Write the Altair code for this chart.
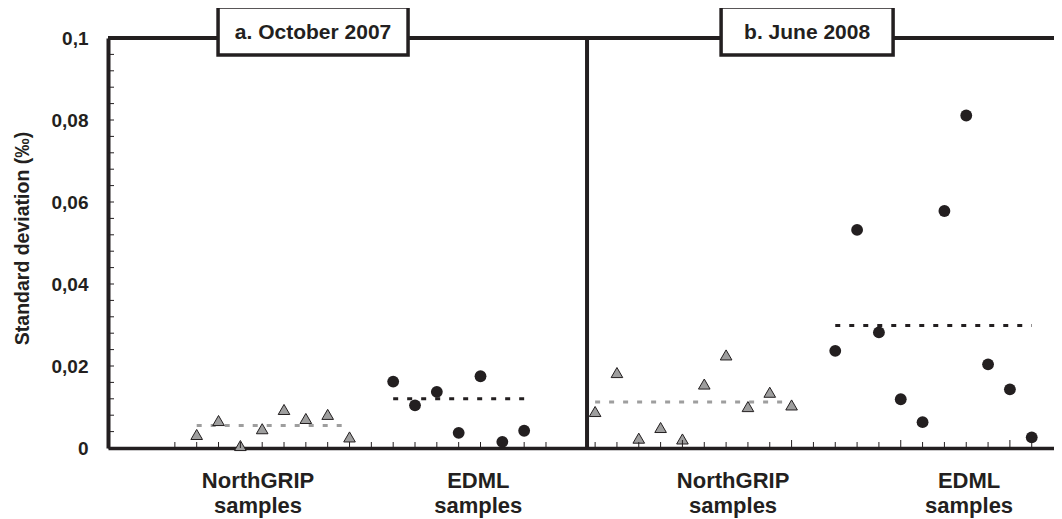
import altair as alt
import pandas as pd

# ---------------- data ----------------
# panel a: October 2007, panel b: June 2008 ; sample slot along x, std. dev. (permil)
oct_ngrip_sample = [1, 2, 3, 4, 5, 6, 7, 8]
oct_ngrip_sd = [0.0033, 0.0067, 0.0006, 0.0047, 0.0094, 0.0072, 0.0082, 0.0027]
oct_edml_sample = [10, 11, 12, 13, 14, 15, 16]
oct_edml_sd = [0.0162, 0.0104, 0.0137, 0.0037, 0.0175, 0.0015, 0.0042]

jun_ngrip_sample = [1, 2, 3, 4, 5, 6, 7, 8, 9, 10]
jun_ngrip_sd = [0.0089, 0.0184, 0.0024, 0.0050, 0.0022, 0.0156, 0.0227, 0.0101, 0.0136, 0.0105]
jun_edml_sample = [12, 13, 14, 15, 16, 17, 18, 19, 20, 21]
jun_edml_sd = [0.0237, 0.0532, 0.0282, 0.0119, 0.0063, 0.0578, 0.0811, 0.0204, 0.0143, 0.0026]

# mean lines (dashed)
mean_panel = ["a", "a", "b", "b"]
mean_group = ["NorthGRIP", "EDML", "NorthGRIP", "EDML"]
mean_first = [1, 10, 1, 12]
mean_last = [8, 16, 10, 21]
mean_sd = [0.0055, 0.0120, 0.0112, 0.0299]

# panel titles
title_panel = ["a", "b"]
title_text = ["a. October 2007", "b. June 2008"]
title_pos = [6.33, 10.71]

# group labels under the x axis
glabel_panel = ["a", "a", "b", "b"]
glabel_text = ["NorthGRIP\nsamples", "EDML\nsamples", "NorthGRIP\nsamples", "EDML\nsamples"]
glabel_pos = [3.81, 13.9, 7.32, 18.13]

# x tick slots per panel
xtick_a = list(range(0, 18))
xtick_b = list(range(1, 22))
xtick_b_major = [5, 10, 15, 20]

# y axis
y_labels = [0, 0.02, 0.04, 0.06, 0.08, 0.1]
y_minor = [round(i * 0.004, 3) for i in range(26)]

# ---------------- layout / style ----------------
W, H = 946, 410
X_DOMAIN = [-3.063, 40.27]
B_OFFSET = 18.25
DIVIDER = 18.88
INK = "#231f20"
GREY = "#9e9e9e"
FONT = "Liberation Sans"

def calc(field):
    return f"datum.{field} + (datum.panel == 'b' ? {B_OFFSET} : 0)"

xs = alt.Scale(domain=X_DOMAIN, nice=False, zero=False)
ys = alt.Scale(domain=[0, 0.1], nice=False, zero=True)

X_AX = alt.Axis(labels=False, ticks=False, grid=False, domain=True,
                domainWidth=3.5, domainColor=INK, title=None)
Y_AX = alt.Axis(values=y_labels, ticks=False, grid=False, domain=True,
                domainWidth=4, domainColor=INK,
                labelExpr="replace(format(datum.value, '~g'), '.', ',')",
                labelFont=FONT, labelFontSize=19, labelFontWeight="bold",
                labelColor=INK, labelPadding=20,
                title="Standard deviation (‰)", titleFont=FONT, titleFontSize=19.5,
                titleFontWeight="bold", titleColor=INK, titleX=-86, titleY=200,
                titleAngle=-90, titleAlign="center", titleBaseline="middle")

def X(field):
    return alt.X(field, type="quantitative", scale=xs, axis=X_AX)

def Y(field):
    return alt.Y(field, type="quantitative", scale=ys, axis=Y_AX)

rows = []
for p, g, xs_, ys_ in [("a", "NorthGRIP", oct_ngrip_sample, oct_ngrip_sd),
                       ("a", "EDML", oct_edml_sample, oct_edml_sd),
                       ("b", "NorthGRIP", jun_ngrip_sample, jun_ngrip_sd),
                       ("b", "EDML", jun_edml_sample, jun_edml_sd)]:
    for s, v in zip(xs_, ys_):
        rows.append({"panel": p, "group": g, "sample": s, "sd": v})
pts = pd.DataFrame(rows)

means = pd.DataFrame({"panel": mean_panel, "group": mean_group,
                      "first": mean_first, "last": mean_last, "sd": mean_sd})
titles = pd.DataFrame({"panel": title_panel, "text": title_text, "pos": title_pos})
glabels = pd.DataFrame({"panel": glabel_panel, "text": glabel_text, "pos": glabel_pos})
xt_rows = [{"panel": "a", "slot": s, "major": False} for s in xtick_a] + \
          [{"panel": "b", "slot": s, "major": s in xtick_b_major} for s in xtick_b]
xticks = pd.DataFrame(xt_rows)
yticks = pd.DataFrame({"v": y_minor})
one = pd.DataFrame({"k": [0]})

color_scale = alt.Scale(domain=["NorthGRIP", "EDML"], range=[GREY, INK])

mean_layer = alt.Chart(means).transform_calculate(
    s1=calc("first"), s2=calc("last")
).mark_rule(strokeWidth=3, strokeDash=[5, 9]).encode(
    x=X("s1:Q"), x2="s2:Q", y=Y("sd:Q"),
    color=alt.Color("group:N", scale=color_scale, legend=None))

tri_layer = alt.Chart(pts).transform_filter("datum.group == 'NorthGRIP'").transform_calculate(
    s=calc("sample")
).mark_point(shape="triangle-up", filled=True, fill=GREY, stroke=INK,
             strokeWidth=1, size=135, opacity=1).encode(x=X("s:Q"), y=Y("sd:Q"))

circ_layer = alt.Chart(pts).transform_filter("datum.group == 'EDML'").transform_calculate(
    s=calc("sample")
).mark_circle(size=140, color=INK, opacity=1).encode(x=X("s:Q"), y=Y("sd:Q"))

xtick_minor = alt.Chart(xticks).transform_filter("!datum.major").transform_calculate(
    s=calc("slot")
).mark_rule(strokeWidth=1, color=INK).encode(
    x=X("s:Q"), y=alt.value(H), y2=alt.value(H - 6))

xtick_major = alt.Chart(xticks).transform_filter("datum.major").transform_calculate(
    s=calc("slot")
).mark_rule(strokeWidth=1, color=INK).encode(
    x=X("s:Q"), y=alt.value(H), y2=alt.value(H - 8))

ytick_layer = alt.Chart(yticks).mark_rule(strokeWidth=1, color=INK).encode(
    y=Y("v:Q"), x=alt.value(0), x2=alt.value(6))

top_line = alt.Chart(one).mark_rule(strokeWidth=4, color=INK).encode(
    y=alt.YDatum(0.1, type="quantitative", scale=ys, axis=Y_AX))

divider = alt.Chart(one).mark_rule(strokeWidth=4, color=INK).encode(
    x=alt.XDatum(DIVIDER, type="quantitative", scale=xs, axis=X_AX))

def box_layer(panel, w):
    r = 48.0 / w
    path = f"M-1,-{r:.4f}L1,-{r:.4f}L1,{r:.4f}L-1,{r:.4f}Z"
    return alt.Chart(titles).transform_filter(f"datum.panel == '{panel}'").transform_calculate(
        s=calc("pos")
    ).mark_point(shape=path, size=w * w, filled=True, fill="white", stroke=INK,
                 strokeWidth=3.5, opacity=1, yOffset=-7).encode(
        x=X("s:Q"), y=alt.YDatum(0.1, type="quantitative", scale=ys, axis=Y_AX))

box_a = box_layer("a", 190)
box_b = box_layer("b", 172)

title_layer = alt.Chart(titles).transform_calculate(s=calc("pos")).mark_text(
    font=FONT, fontSize=21, fontWeight="bold", color=INK, align="center",
    baseline="middle", yOffset=-5).encode(
    x=X("s:Q"), y=alt.YDatum(0.1, type="quantitative", scale=ys, axis=Y_AX),
    text="text:N")

glabel_layer = alt.Chart(glabels).transform_calculate(s=calc("pos")).mark_text(
    font=FONT, fontSize=22, fontWeight="bold", color=INK, align="center",
    baseline="middle", lineBreak="\n", lineHeight=25).encode(
    x=X("s:Q"), y=alt.value(443), text="text:N")

chart = alt.layer(
    mean_layer, tri_layer, circ_layer, xtick_minor, xtick_major, ytick_layer,
    top_line, divider, box_a, box_b, title_layer, glabel_layer
).properties(
    width=W, height=H,
    autosize=alt.AutoSizeParams(type="none"),
    padding={"left": 100, "top": 30, "right": 0, "bottom": 70},
    background="white",
).configure_view(stroke=None)

chart.save("out.html", embed_options={"renderer": "svg", "actions": False})
